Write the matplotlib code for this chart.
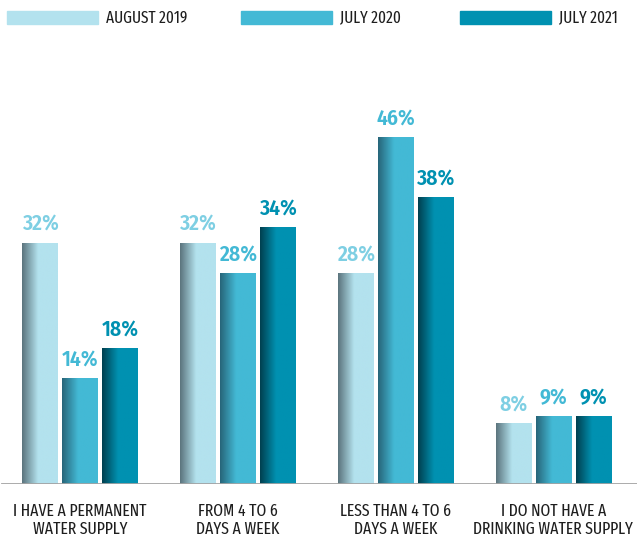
import numpy as np
import matplotlib
matplotlib.use("Agg")
from matplotlib import pyplot as plt
from matplotlib.colors import to_rgb
from matplotlib.patches import Rectangle

plt.rcParams['font.family'] = ['Fira Sans Extra Condensed', 'DejaVu Sans']

categories = ["I HAVE A PERMANENT\nWATER SUPPLY",
              "FROM 4 TO 6\nDAYS A WEEK",
              "LESS THAN 4 TO 6\nDAYS A WEEK",
              "I DO NOT HAVE A\nDRINKING WATER SUPPLY"]
series = ["AUGUST 2019", "JULY 2020", "JULY 2021"]
aug_2019 = [32, 32, 28, 8]
jul_2020 = [14, 28, 46, 9]
jul_2021 = [18, 34, 38, 9]
values = [aug_2019, jul_2020, jul_2021]

bar_colors = ['#b3e2ee', '#43b9d5', '#0091b1']
dark_colors = ['#5b747d', '#276579', '#00404f']
label_colors = ['#7ecfe3', '#43b9d5', '#0091b1']

fig = plt.figure(figsize=(6.37, 5.39), dpi=100)
ax = fig.add_axes([0, 55 / 539, 1, 444 / 539])

x = np.arange(len(categories))
width = 0.222
step = 0.2535

for s in range(3):
    bars = ax.bar(x + (s - 1) * step, values[s], width, color=bar_colors[s], zorder=2)
    c0 = np.array(to_rgb(dark_colors[s]))
    c1 = np.array(to_rgb(bar_colors[s]))
    t = np.clip(np.linspace(0, 1, 100) / 0.45, 0, 1)[:, None]
    grad = (c0 * (1 - t) + c1 * t)[None, :, :]
    for b, v in zip(bars, values[s]):
        bx, bw, bh = b.get_x(), b.get_width(), b.get_height()
        ax.imshow(grad, extent=(bx, bx + bw, 0, bh), aspect='auto',
                  interpolation='bilinear', zorder=3)
        ax.text(bx + bw / 2, bh + 1.6, f"{v}%", ha='center', va='baseline',
                fontsize=15.5, fontweight='semibold', color=label_colors[s], zorder=4,
                family=['Fira Sans Condensed', 'DejaVu Sans'])

ax.axhline(0, xmin=0.003, color='#a3a3a3', lw=2, zorder=5)
ax.set_xlim(-80 / 157.8, (637 - 80) / 157.8)
ax.set_ylim(0, 444 / 7.53)
ax.axis('off')

for i, cat in enumerate(categories):
    ax.text(x[i], -2.5, cat, ha='center', va='top', fontsize=12.3,
            color='#1e1e1e', linespacing=1.17)

# legend
leg_x = [7, 241, 460]
for s in range(3):
    fig.patches.append(Rectangle((leg_x[s] / 637, 1 - 24 / 539), 91 / 637, 13 / 539,
                                 transform=fig.transFigure, color=bar_colors[s]))
    fig.text((leg_x[s] + 99) / 637, 1 - 18 / 539, series[s], ha='left', va='center',
             fontsize=12, color='#1e1e1e')

plt.savefig("out.png", dpi=100)
